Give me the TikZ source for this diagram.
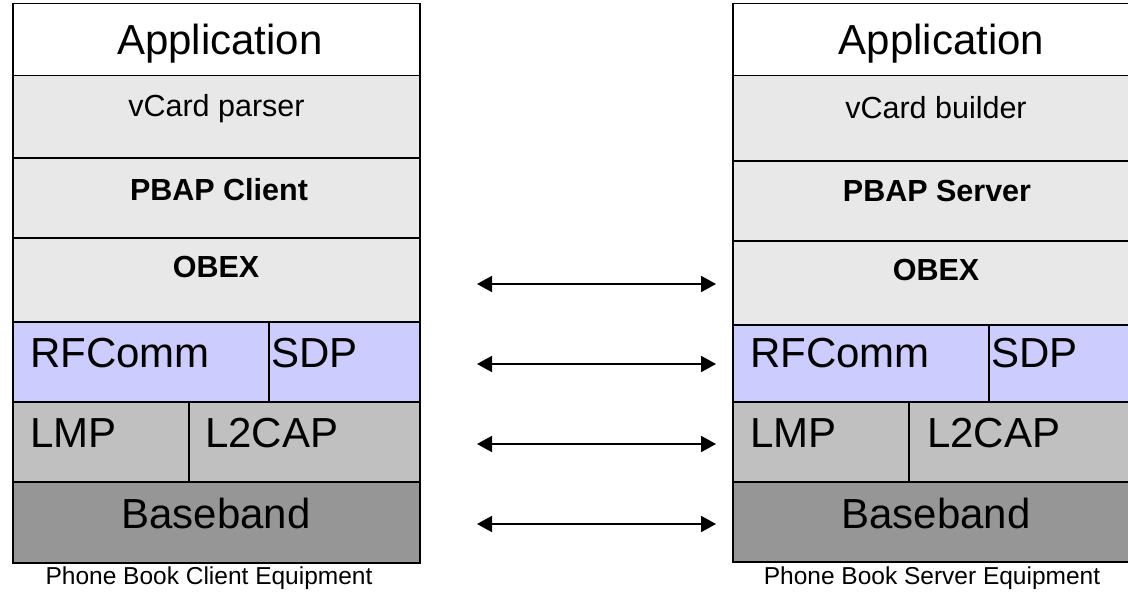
\documentclass[tikz,border=0pt]{standalone}
\usepackage{fontspec}
\setmainfont{Liberation Sans}
\usetikzlibrary{arrows.meta}
\definecolor{lgrey}{HTML}{E8E8E8}
\definecolor{lav}{HTML}{CCCCFF}
\definecolor{mgrey}{HTML}{C0C0C0}
\definecolor{dgrey}{HTML}{969696}
\begin{document}
\begin{tikzpicture}[x=1pt,y=-1pt,
  layer/.style={draw=black, line width=1.5pt, rectangle, inner sep=0pt, anchor=north west},
  big/.style={font=\fontsize{42}{48}\selectfont, inner sep=0pt},
  mid/.style={font=\fontsize{30.5}{36}\selectfont, inner sep=0pt},
  midb/.style={font=\fontsize{30.5}{36}\selectfont\bfseries, inner sep=0pt},
  capt/.style={font=\fontsize{24.5}{29}\selectfont, inner sep=0pt, anchor=base},
  link/.style={line width=2pt, {Triangle[length=15pt,width=16pt]}-{Triangle[length=15pt,width=16pt]}}]
\useasboundingbox (0,0) rectangle (1128,594);
\fill[white] (0,0) rectangle (1128,594);
% ---------- left stack ----------
\node[layer, fill=white, minimum width=407pt, minimum height=72pt] (Lapp) at (12,3) {};
\node[layer, fill=lgrey, minimum width=407pt, minimum height=82pt] (Lvc) at (12,75) {};
\node[layer, fill=lgrey, minimum width=407pt, minimum height=80pt] (Lpb) at (12,157) {};
\node[layer, fill=lgrey, minimum width=407pt, minimum height=84pt] (Lob) at (12,237) {};
\node[layer, fill=lav, minimum width=256pt, minimum height=80pt] (Lrf) at (12,321) {};
\node[layer, fill=lav, minimum width=151pt, minimum height=80pt] (Lsdp) at (268,321) {};
\node[layer, fill=mgrey, minimum width=176pt, minimum height=80pt] (Llmp) at (12,401) {};
\node[layer, fill=mgrey, minimum width=231pt, minimum height=80pt] (Ll2) at (188,401) {};
\node[layer, fill=dgrey, minimum width=407pt, minimum height=81pt] (Lbb) at (12,481) {};
\node[big, anchor=base] (tLapp) at (220,55) {Application};
\node[mid, anchor=base] (tLvc) at (216.5,117) {vCard parser};
\node[midb, anchor=base] (tLpb) at (219,200) {PBAP Client};
\node[midb, anchor=base] (tLob) at (216,277) {OBEX};
\node[big, anchor=base west] (tLrf) at (30,367) {RFComm};
\node[big, anchor=base west] (tLsdp) at (271,367) {SDP};
\node[big, anchor=base west] (tLlmp) at (30,447) {LMP};
\node[big, anchor=base west] (tLl2) at (205,447) {L2CAP};
\node[big, anchor=base] (tLbb) at (216,528) {Baseband};
\node[capt] (capL) at (209,584) {Phone Book Client Equipment};
% ---------- right stack ----------
\node[layer, fill=white, minimum width=407pt, minimum height=72pt] (Rapp) at (732,3) {};
\node[layer, fill=lgrey, minimum width=407pt, minimum height=85pt] (Rvc) at (732,75) {};
\node[layer, fill=lgrey, minimum width=407pt, minimum height=80pt] (Rpb) at (732,160) {};
\node[layer, fill=lgrey, minimum width=407pt, minimum height=84pt] (Rob) at (732,240) {};
\node[layer, fill=lav, minimum width=256pt, minimum height=77pt] (Rrf) at (732,324) {};
\node[layer, fill=lav, minimum width=151pt, minimum height=77pt] (Rsdp) at (988,324) {};
\node[layer, fill=mgrey, minimum width=176pt, minimum height=80pt] (Rlmp) at (732,401) {};
\node[layer, fill=mgrey, minimum width=231pt, minimum height=80pt] (Rl2) at (908,401) {};
\node[layer, fill=dgrey, minimum width=407pt, minimum height=80pt] (Rbb) at (732,481) {};
\node[big, anchor=base] (tRapp) at (941.5,55) {Application};
\node[mid, anchor=base] (tRvc) at (936,118) {vCard builder};
\node[midb, anchor=base] (tRpb) at (937,201.5) {PBAP Server};
\node[midb, anchor=base] (tRob) at (936,280) {OBEX};
\node[big, anchor=base west] (tRrf) at (750,367) {RFComm};
\node[big, anchor=base west] (tRsdp) at (991,367) {SDP};
\node[big, anchor=base west] (tRlmp) at (750,447) {LMP};
\node[big, anchor=base west] (tRl2) at (927,447) {L2CAP};
\node[big, anchor=base] (tRbb) at (936,528) {Baseband};
\node[capt] (capR) at (932,584) {Phone Book Server Equipment};
% ---------- arrows ----------
\coordinate (a1l) at (477,284); \coordinate (a1r) at (716,284);
\coordinate (a2l) at (477,364); \coordinate (a2r) at (716,364);
\coordinate (a3l) at (477,444); \coordinate (a3r) at (716,444);
\coordinate (a4l) at (477,524); \coordinate (a4r) at (716,524);
\draw[link] (a1l) -- (a1r);
\draw[link] (a2l) -- (a2r);
\draw[link] (a3l) -- (a3r);
\draw[link] (a4l) -- (a4r);
\end{tikzpicture}
\end{document}
